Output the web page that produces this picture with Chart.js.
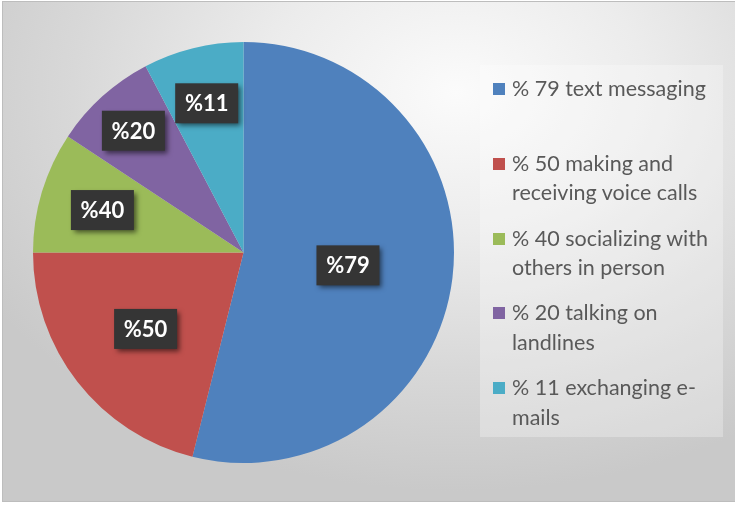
<!DOCTYPE html>
<html>
<head>
	<meta charset="utf-8">
	<title>Pie</title>
	<style>
		* {
			box-sizing: border-box;
		}
		html, body {
			margin: 0px;
			padding: 0px;
			width: 735px;
			height: 506px;
			background: #fff;
			overflow: hidden;
		}
		.frame {
			position: absolute;
			left: 2px;
			top: 1px;
			width: 733px;
			height: 501px;
			border: 1px solid #bdbdbd;
			border-right: none;
			background: radial-gradient(ellipse 75% 80% at 62% 18%, #fbfbfb 0%, #ececec 35%, #d8d8d8 70%, #c9c9c9 100%);
		}
		canvas {
			position: absolute;
			left: 0px;
			top: 0px;
		}
		.legend {
			position: absolute;
			left: 480px;
			top: 65px;
			width: 243px;
			height: 372px;
			background: rgba(255, 255, 255, 0.28);
			padding-top: 9px;
		}
		.item {
			position: relative;
			height: 74.8px;
			padding-left: 32px;
			font-family: Lato, sans-serif;
			font-size: 21.5px;
			line-height: 29.5px;
			color: #595959;
			white-space: pre;
		}
		.item span.sw {
			position: absolute;
			left: 13px;
			top: 9px;
			width: 12px;
			height: 12px;
		}
	</style>
</head>
<body>
	<div class="frame"></div>
	<canvas id="pie" width="735" height="506"></canvas>
	<div class="legend"></div>

	<script src="https://cdn.jsdelivr.net/npm/chart.js@4/dist/chart.umd.min.js"></script>
	<script>
		// legend text, line breaks as in the picture
		const categories = [
			"% 79 text messaging",
			"% 50 making and\nreceiving voice calls",
			"% 40 socializing with\nothers in person",
			"% 20 talking on\nlandlines",
			"% 11 exchanging e-\nmails"
		];
		// slice sizes as drawn (share of the circle)
		const sliceShare = [53.9, 21.1, 9.3, 8.0, 7.7];
		// numbers printed on the slices
		const pctLabels = [79, 50, 40, 20, 11];
		const colors = ["#4f81bd", "#c0504d", "#9bbb59", "#8064a2", "#4bacc6"];

		const sliceLabels = {
			id: "sliceLabels",
			afterDatasetsDraw(chart, args, opts) {
				const ctx = chart.ctx;
				const arcs = chart.getDatasetMeta(0).data;
				arcs.forEach((arc, i) => {
					const p = arc.getProps(["x", "y", "startAngle", "endAngle", "outerRadius"], true);
					const mid = (p.startAngle + p.endAngle) / 2;
					const r = p.outerRadius * opts.radius[i];
					const cx = p.x + Math.cos(mid) * r;
					const cy = p.y + Math.sin(mid) * r;
					const w = 63, h = 40;

					ctx.save();
					ctx.shadowColor = "rgba(0,0,0,0.55)";
					ctx.shadowBlur = 5;
					ctx.shadowOffsetX = 3;
					ctx.shadowOffsetY = 3;
					ctx.fillStyle = "#353535";
					ctx.fillRect(cx - w / 2, cy - h / 2, w, h);
					ctx.restore();

					ctx.save();
					ctx.font = "bold 22px Lato, sans-serif";
					ctx.fillStyle = "#ffffff";
					ctx.textAlign = "center";
					ctx.textBaseline = "middle";
					ctx.fillText("%" + pctLabels[i], cx, cy + 1);
					ctx.restore();
				});
			}
		};

		new Chart(document.getElementById("pie"), {
			type: "pie",
			data: {
				labels: categories,
				datasets: [{
					data: sliceShare,
					backgroundColor: colors,
					borderWidth: 0
				}]
			},
			options: {
				responsive: false,
				animation: false,
				layout: {
					padding: { left: 33, top: 42, right: 281, bottom: 43 }
				},
				plugins: {
					legend: { display: false },
					tooltip: { enabled: false },
					sliceLabels: { radius: [0.5, 0.59, 0.70, 0.78, 0.73] }
				}
			},
			plugins: [sliceLabels]
		});

		const legend = document.querySelector(".legend");
		categories.forEach((c, i) => {
			const item = document.createElement("div");
			item.className = "item";
			const sw = document.createElement("span");
			sw.className = "sw";
			sw.style.background = colors[i];
			item.appendChild(sw);
			item.appendChild(document.createTextNode(c));
			legend.appendChild(item);
		});
	</script>
</body>
</html>
